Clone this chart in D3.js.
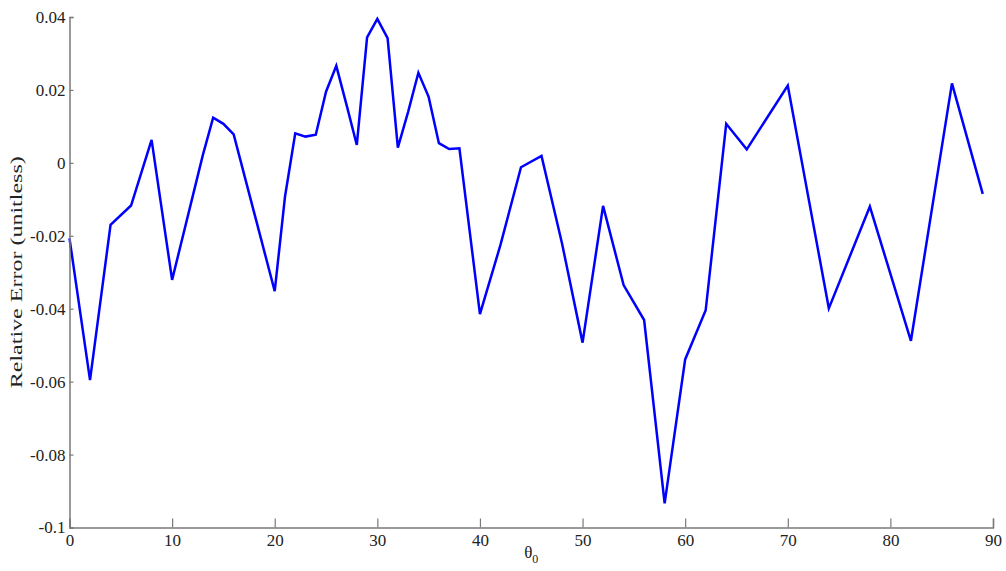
<!DOCTYPE html>
<html>
<head>
<meta charset="utf-8">
<script src="https://cdn.jsdelivr.net/npm/d3@7"></script>
<style>
  html, body { margin: 0; padding: 0; background: #fff; }
  svg { display: block; }
  text { font-family: "Liberation Serif", "Times New Roman", serif; fill: #222; }
</style>
</head>
<body>
<svg id="chart" width="1006" height="571"></svg>
<script>
const thetaValues = [0, 2, 4, 6, 8, 10, 13, 14, 15, 16, 20, 21, 22, 23, 24, 25, 26, 27, 28, 29, 30, 31, 32, 33, 34, 35, 36, 37, 38, 40, 42, 44, 46, 48, 50, 52, 54, 56, 58, 60, 62, 64, 66, 70, 74, 78, 82, 86, 89];
const errorValues = [-0.0207, -0.0596, -0.0170, -0.0117, 0.0063, -0.0321, 0.0022, 0.0124, 0.0107, 0.0078, -0.0352, -0.0093, 0.0081, 0.0072, 0.0077, 0.0195, 0.0266, 0.0159, 0.0049, 0.0344, 0.0395, 0.0342, 0.0042, 0.0140, 0.0247, 0.0181, 0.0054, 0.0038, 0.0040, -0.0415, -0.0225, -0.0012, 0.0019, -0.0221, -0.0493, -0.0118, -0.0335, -0.0431, -0.0934, -0.0539, -0.0404, 0.0107, 0.0037, 0.0212, -0.0399, -0.0120, -0.0488, 0.0218, -0.0085];
const xTickValues = [0, 10, 20, 30, 40, 50, 60, 70, 80, 90];
const xTickLabels = ["0", "10", "20", "30", "40", "50", "60", "70", "80", "90"];
const yTickValues = [0.04, 0.02, 0, -0.02, -0.04, -0.06, -0.08, -0.1];
const yTickLabels = ["0.04", "0.02", "0", "-0.02", "-0.04", "-0.06", "-0.08", "-0.1"];
const yAxisTitle = "Relative Error (unitless)";
const xAxisTitle = "θ";
const xAxisSub = "0";

const svg = d3.select("#chart");
const x = d3.scaleLinear().domain([0, 90]).range([69.5, 993]);
const y = d3.scaleLinear().domain([-0.1, 0.04]).range([527.5, 17]);
const axisColor = "#7a7a7a";
const serif = "'Liberation Serif', 'Times New Roman', serif";

// line
const line = d3.line().x(d => x(d[0])).y(d => y(d[1]));
svg.append("path")
  .datum(thetaValues.map((t, i) => [t, errorValues[i]]))
  .attr("d", line)
  .attr("fill", "none")
  .attr("stroke", "#0000ff")
  .attr("stroke-width", 2.5)
  .attr("stroke-linejoin", "miter");

// axes
const yAxis = d3.axisLeft(y)
  .tickValues(yTickValues)
  .tickFormat((d, i) => yTickLabels[i])
  .tickSize(-4)
  .tickPadding(6);
const gy = svg.append("g").attr("transform", `translate(${x(0)},0)`).call(yAxis);

const xAxis = d3.axisBottom(x)
  .tickValues(xTickValues)
  .tickFormat((d, i) => xTickLabels[i])
  .tickSize(-9)
  .tickPadding(6);
const gx = svg.append("g").attr("transform", `translate(0,${y(-0.1)})`).call(xAxis);

[gx, gy].forEach(g => {
  g.attr("font-family", serif);
  g.select(".domain").attr("stroke", axisColor).attr("stroke-width", 1.5);
  g.selectAll(".tick line").attr("stroke", axisColor).attr("stroke-width", 1.2);
  g.selectAll(".tick text")
    .style("font-family", serif)
    .attr("font-size", 17)
    .attr("fill", "#222");
});
gx.selectAll(".tick text").attr("dy", "0.75em").attr("y", 6);
gy.selectAll(".tick text").attr("x", -4);

// titles
svg.append("text")
  .attr("transform", `translate(22,${(17 + 527.5) / 2}) rotate(-90)`)
  .attr("text-anchor", "middle")
  .attr("font-size", 17)
  .attr("textLength", 232)
  .attr("lengthAdjust", "spacingAndGlyphs")
  .text(yAxisTitle);

const xt = svg.append("text")
  .attr("x", x(45))
  .attr("y", 558)
  .attr("text-anchor", "middle")
  .attr("font-size", 17);
xt.append("tspan").text(xAxisTitle);
xt.append("tspan").attr("dy", 5).attr("font-size", 12).text(xAxisSub);
</script>
</body>
</html>
